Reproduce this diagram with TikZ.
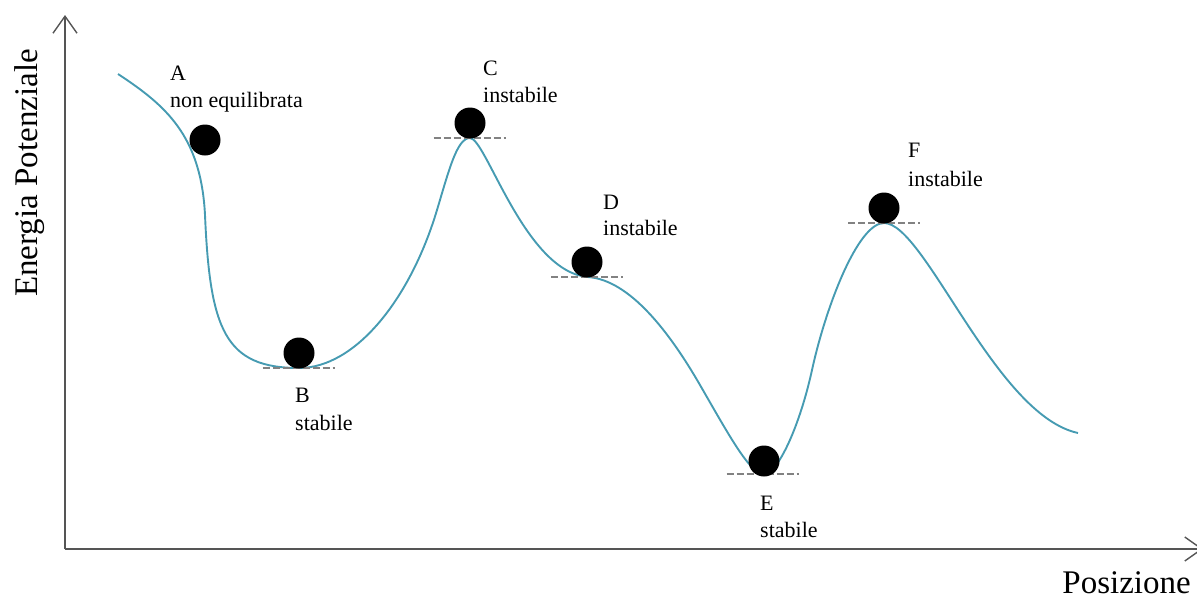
\documentclass[tikz,border=0pt]{standalone}
\usepackage{fontspec}
\setmainfont{Liberation Serif}
\usetikzlibrary{arrows.meta}
\definecolor{curvecol}{RGB}{70,155,178}
\definecolor{axiscol}{RGB}{85,85,85}
\definecolor{dashcol}{RGB}{130,130,130}
\begin{document}
\begin{tikzpicture}[x=1pt,y=-1pt,
  axisline/.style={draw=axiscol,line width=2.2pt,-{Straight Barb[length=17pt,width=24pt,line width=1.4pt]}},
  energy/.style={draw=curvecol,line width=1.9pt},
  refline/.style={draw=dashcol,line width=1.5pt,dash pattern=on 7pt off 3pt},
  ball/.style={circle,fill=black,inner sep=0pt,minimum size=31pt},
  lbl/.style={font=\fontsize{22}{26}\selectfont,inner sep=0pt,anchor=base west},
  axlbl/.style={font=\fontsize{33}{38}\selectfont,inner sep=0pt}]
\useasboundingbox (0,0) rectangle (1197,598);
% axes
\coordinate (O) at (65,549);
\coordinate (Ytip) at (65,15);
\coordinate (Xtip) at (1203,549);
\draw[axisline] (O) -- (Ytip);
\draw[axisline] (O) -- (Xtip);
\node[axlbl,rotate=90,anchor=base] (ylab) at (37,173) {Energia Potenziale};
\node[axlbl,anchor=base east] (xlab) at (1191,593) {Posizione};
% curve points
\coordinate (S) at (118,74);
\coordinate (K1) at (205,215);
\coordinate (B0) at (299,368);
\coordinate (I1) at (437,210);
\coordinate (C0) at (470,138);
\coordinate (D0) at (588,277);
\coordinate (I2) at (700,385);
\coordinate (E0) at (764,474);
\coordinate (I3) at (812,370);
\coordinate (F0) at (884,223);
\coordinate (T) at (1078,433);
\draw[energy] (S) .. controls (165,105) and (201,135) .. (K1)
  .. controls (210,330) and (225,368) .. (B0)
  .. controls (355,368) and (410,300) .. (I1)
  .. controls (449,170) and (457,138) .. (C0)
  .. controls (486,138) and (525,272) .. (D0)
  .. controls (630,280) and (670,333) .. (I2)
  .. controls (730,437) and (750,474) .. (E0)
  .. controls (778,474) and (800,425) .. (I3)
  .. controls (826,306) and (858,223) .. (F0)
  .. controls (925,223) and (995,415) .. (T);
% dashed reference lines
\coordinate (dB) at (298.5,368);
\coordinate (dC) at (469.5,138);
\coordinate (dD) at (587,277);
\coordinate (dE) at (762.5,474);
\coordinate (dF) at (884,223);
\foreach \p in {dB,dC,dD,dE,dF}
  \draw[refline] ([xshift=-36pt]\p) -- ([xshift=36pt]\p);
% balls
\node[ball] (ballA) at (205,140) {};
\node[ball] (ballB) at (299,353) {};
\node[ball] (ballC) at (470,123) {};
\node[ball] (ballD) at (587,262) {};
\node[ball] (ballE) at (764,461) {};
\node[ball] (ballF) at (884,208) {};
% labels
\node[lbl] (lA) at (170,80) {A};
\node[lbl] (tA) at (170,107) {non equilibrata};
\node[lbl] (lB) at (295,402) {B};
\node[lbl] (tB) at (295,430) {stabile};
\node[lbl] (lC) at (483,75) {C};
\node[lbl] (tC) at (483,102) {instabile};
\node[lbl] (lD) at (603,209) {D};
\node[lbl] (tD) at (603,235) {instabile};
\node[lbl] (lE) at (760,510) {E};
\node[lbl] (tE) at (760,537) {stabile};
\node[lbl] (lF) at (908,157) {F};
\node[lbl] (tF) at (908,186) {instabile};
\end{tikzpicture}
\end{document}
